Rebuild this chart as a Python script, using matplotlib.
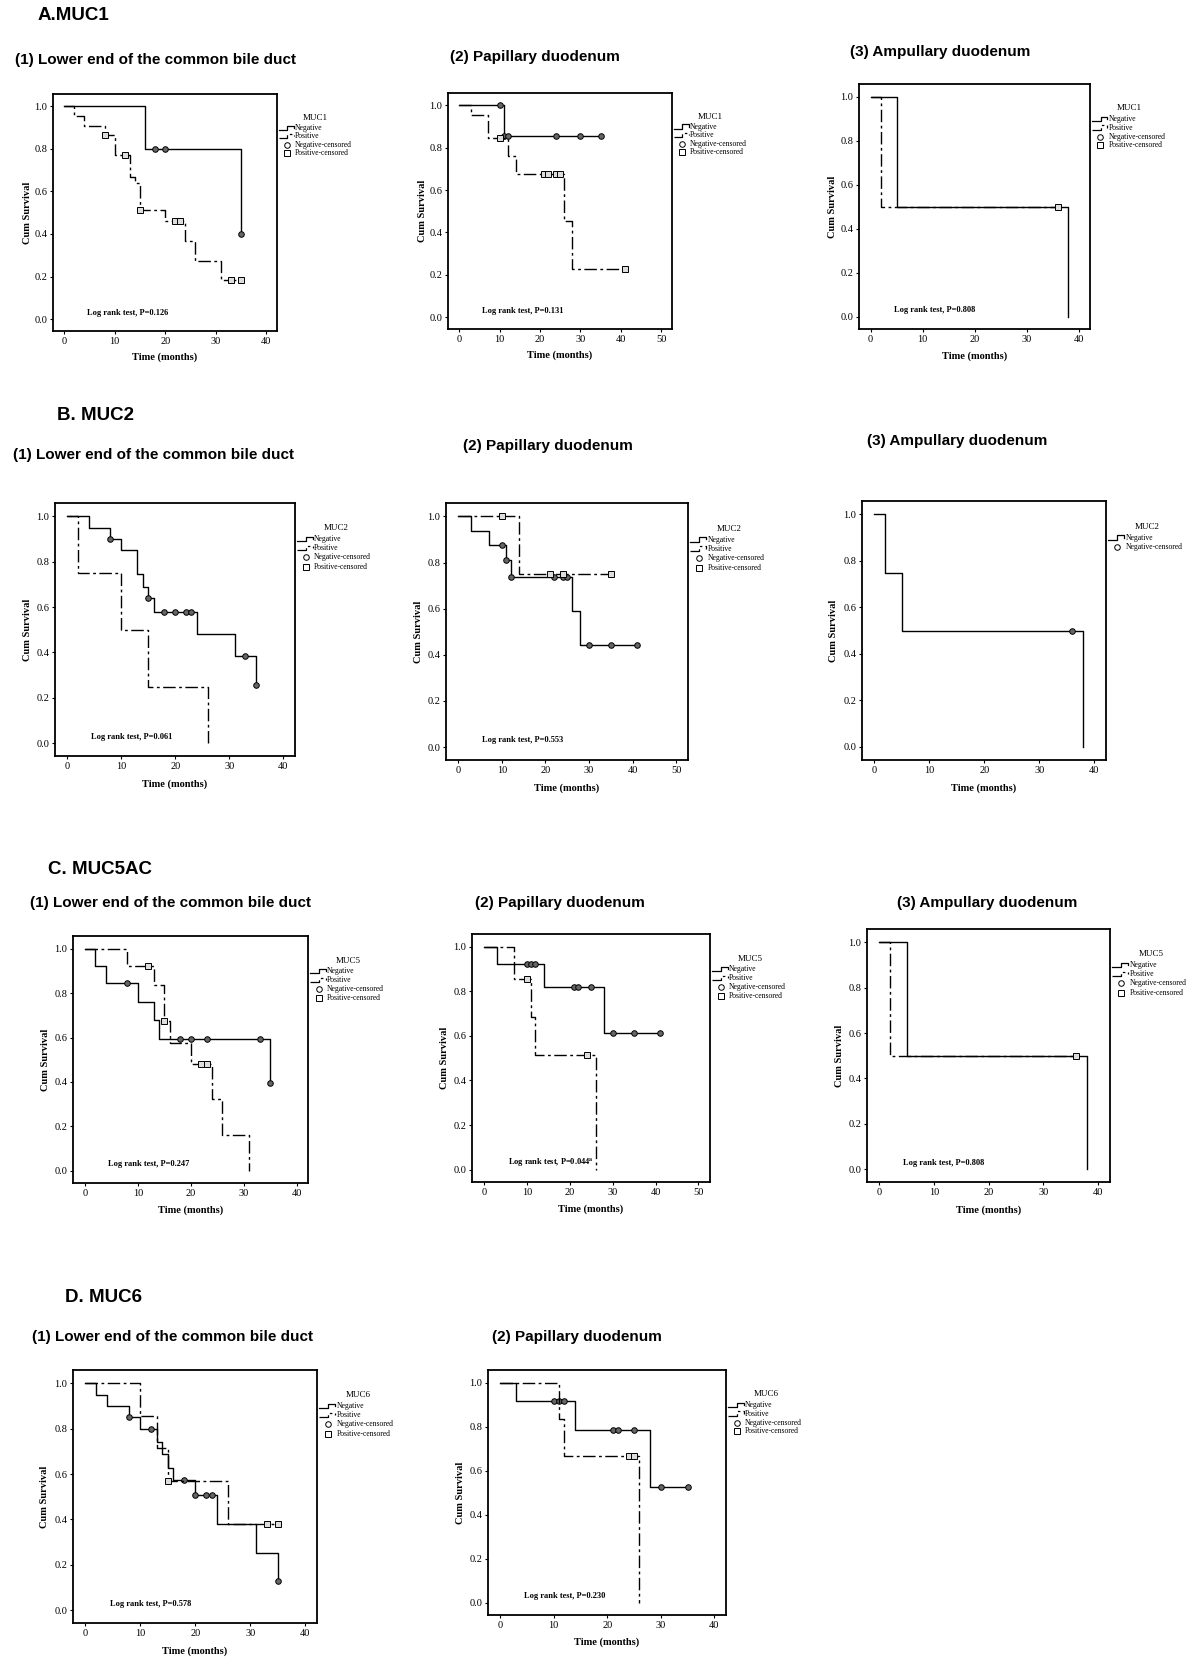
import matplotlib
matplotlib.use('Agg')
import numpy as np
import matplotlib.pyplot as plt
from matplotlib import font_manager

W, H = 1200, 1664

# Kaplan-Meier curves:
# *_t = event times (months), *_s = survival after each event, *_c = censored times

# A. MUC1
a1_neg_t = [16, 35]
a1_neg_s = [0.80, 0.40]
a1_neg_c = [18, 20, 35]
a1_pos_t = [2, 4, 8, 10, 13, 14, 15, 20, 24, 26, 31]
a1_pos_s = [0.955, 0.909, 0.864, 0.769, 0.667, 0.641, 0.513, 0.459, 0.367, 0.275, 0.183]
a1_pos_c = [8, 12, 15, 22, 23, 33, 35]

a2_neg_t = [11]
a2_neg_s = [0.857]
a2_neg_c = [10, 11, 12, 24, 30, 35]
a2_pos_t = [3, 7, 12, 14, 26, 28]
a2_pos_s = [0.952, 0.847, 0.762, 0.678, 0.452, 0.226]
a2_pos_c = [10, 21, 22, 24, 25, 41]

a3_neg_t = [5, 38]
a3_neg_s = [0.5, 0.0]
a3_neg_c = []
a3_pos_t = [2]
a3_pos_s = [0.5]
a3_pos_c = [36]

# B. MUC2
b1_neg_t = [4, 8, 10, 13, 14, 15, 16, 24, 31, 35]
b1_neg_s = [0.95, 0.90, 0.85, 0.744, 0.69, 0.639, 0.58, 0.483, 0.385, 0.258]
b1_neg_c = [8, 15, 18, 20, 22, 23, 33, 35]
b1_pos_t = [2, 10, 15, 26]
b1_pos_s = [0.75, 0.50, 0.25, 0.0]
b1_pos_c = []

b2_neg_t = [3, 7, 11, 12, 26, 28]
b2_neg_s = [0.9375, 0.875, 0.81, 0.736, 0.588, 0.441]
b2_neg_c = [10, 11, 12, 22, 24, 25, 30, 35, 41]
b2_pos_t = [14]
b2_pos_s = [0.75]
b2_pos_c = [10, 21, 24, 35]

b3_neg_t = [2, 5, 38]
b3_neg_s = [0.75, 0.5, 0.0]
b3_neg_c = [36]

# C. MUC5AC
c1_neg_t = [2, 4, 10, 13, 14, 35]
c1_neg_s = [0.923, 0.847, 0.761, 0.678, 0.592, 0.396]
c1_neg_c = [8, 18, 20, 23, 33, 35]
c1_pos_t = [8, 13, 15, 16, 20, 24, 26, 31]
c1_pos_s = [0.923, 0.839, 0.673, 0.577, 0.482, 0.322, 0.16, 0.0]
c1_pos_c = [12, 15, 22, 23]

c2_neg_t = [3, 14, 28]
c2_neg_s = [0.923, 0.821, 0.615]
c2_neg_c = [10, 11, 12, 21, 22, 25, 30, 35, 41]
c2_pos_t = [7, 11, 12, 26]
c2_pos_s = [0.857, 0.686, 0.514, 0.0]
c2_pos_c = [10, 24]

c3_neg_t = [5, 38]
c3_neg_s = [0.5, 0.0]
c3_neg_c = []
c3_pos_t = [2]
c3_pos_s = [0.5]
c3_pos_c = [36]

# D. MUC6
d1_neg_t = [2, 4, 8, 10, 13, 14, 15, 16, 20, 24, 31, 35]
d1_neg_s = [0.95, 0.90, 0.85, 0.80, 0.743, 0.688, 0.628, 0.574, 0.507, 0.379, 0.253, 0.128]
d1_neg_c = [8, 12, 18, 20, 22, 23, 35]
d1_pos_t = [10, 13, 15, 26]
d1_pos_s = [0.857, 0.714, 0.571, 0.381]
d1_pos_c = [15, 33, 35]

d2_neg_t = [3, 14, 28]
d2_neg_s = [0.917, 0.786, 0.524]
d2_neg_c = [10, 11, 12, 21, 22, 25, 30, 35]
d2_pos_t = [11, 12, 26]
d2_pos_s = [0.833, 0.667, 0.0]
d2_pos_c = [24, 25]

sections = [('A.MUC1', 38, 15), ('B. MUC2', 57, 415),
            ('C. MUC5AC', 48, 870), ('D. MUC6', 65, 1297)]

SUB1 = '(1) Lower end of the common bile duct'
SUB2 = '(2) Papillary duodenum'
SUB3 = '(3) Ampullary duodenum'

# box = (left, top, right, bottom) in pixels, sub = (x, y) of the panel heading
panels = [
    dict(box=(53, 94, 277, 331), sub=(SUB1, 15, 60), xmax=40, grp='MUC1',
         neg=(a1_neg_t, a1_neg_s, a1_neg_c), pos=(a1_pos_t, a1_pos_s, a1_pos_c), p='0.126'),
    dict(box=(448, 93, 672, 329), sub=(SUB2, 450, 57), xmax=50, grp='MUC1',
         neg=(a2_neg_t, a2_neg_s, a2_neg_c), pos=(a2_pos_t, a2_pos_s, a2_pos_c), p='0.131'),
    dict(box=(859, 84, 1090, 329), sub=(SUB3, 850, 52), xmax=40, grp='MUC1',
         neg=(a3_neg_t, a3_neg_s, a3_neg_c), pos=(a3_pos_t, a3_pos_s, a3_pos_c), p='0.808'),
    dict(box=(55, 503, 295, 756), sub=(SUB1, 13, 455), xmax=40, grp='MUC2',
         neg=(b1_neg_t, b1_neg_s, b1_neg_c), pos=(b1_pos_t, b1_pos_s, b1_pos_c), p='0.061'),
    dict(box=(446, 503, 688, 760), sub=(SUB2, 463, 446), xmax=50, grp='MUC2',
         neg=(b2_neg_t, b2_neg_s, b2_neg_c), pos=(b2_pos_t, b2_pos_s, b2_pos_c), p='0.553'),
    dict(box=(862, 501, 1106, 760), sub=(SUB3, 867, 441), xmax=40, grp='MUC2',
         neg=(b3_neg_t, b3_neg_s, b3_neg_c), pos=None, p=None),
    dict(box=(73, 936, 308, 1183), sub=(SUB1, 30, 903), xmax=40, grp='MUC5',
         neg=(c1_neg_t, c1_neg_s, c1_neg_c), pos=(c1_pos_t, c1_pos_s, c1_pos_c), p='0.247'),
    dict(box=(472, 934, 710, 1182), sub=(SUB2, 475, 903), xmax=50, grp='MUC5',
         neg=(c2_neg_t, c2_neg_s, c2_neg_c), pos=(c2_pos_t, c2_pos_s, c2_pos_c),
         p=r'0.044$^{\mathbf{a}}$'),
    dict(box=(867, 929, 1110, 1182), sub=(SUB3, 897, 903), xmax=40, grp='MUC5',
         neg=(c3_neg_t, c3_neg_s, c3_neg_c), pos=(c3_pos_t, c3_pos_s, c3_pos_c), p='0.808'),
    dict(box=(73, 1370, 317, 1623), sub=(SUB1, 32, 1337), xmax=40, grp='MUC6',
         neg=(d1_neg_t, d1_neg_s, d1_neg_c), pos=(d1_pos_t, d1_pos_s, d1_pos_c), p='0.578'),
    dict(box=(488, 1370, 726, 1615), sub=(SUB2, 492, 1337), xmax=40, grp='MUC6',
         neg=(d2_neg_t, d2_neg_s, d2_neg_c), pos=(d2_pos_t, d2_pos_s, d2_pos_c), p='0.230'),
]

names = {f.name for f in font_manager.fontManager.ttflist}
HEAD = 'Liberation Sans Narrow' if 'Liberation Sans Narrow' in names else 'Liberation Sans'
SUB_SIZE = 13 if HEAD == 'Liberation Sans Narrow' else 11

plt.rcParams['font.family'] = ['Liberation Serif', 'DejaVu Serif']
plt.rcParams['mathtext.fontset'] = 'stix'

DASH = (0, (9, 2.5, 2, 2.5))
CIRC = dict(marker='o', ms=4, mfc='#666666', mec='black', mew=0.7)
SQR = dict(marker='s', ms=4, mfc='#dddddd', mec='black', mew=0.7)


def km_curve(ax, t, s, c, ls, mk):
    times = [0] + list(t)
    surv = [1.0] + list(s)
    if c and max(c) > times[-1]:
        times.append(max(c))
        surv.append(surv[-1])
    ax.step(times, surv, where='post', color='black', lw=1.0, ls=ls)
    if c:
        idx = np.searchsorted(t, c, side='right')
        cy = np.array([1.0] + list(s))[idx]
        ax.plot(c, cy, ls='none', **mk)


def draw_legend(ax, grp, has_pos):
    tr = ax.transAxes
    ax.text(1.17, 0.90, grp, transform=tr, ha='center', va='center', fontsize=6.5)
    rows = [('Negative', 'line', '-')]
    if has_pos:
        rows.append(('Positive', 'line', DASH))
    rows.append(('Negative-censored', 'mark', CIRC))
    if has_pos:
        rows.append(('Positive-censored', 'mark', SQR))
    sx = np.array([0, 0.55, 0.55, 1, 1]) * 0.065 + 1.01
    sy = np.array([0, 0, 1, 1, 0.5]) * 0.018
    for i, (lab, kind, st) in enumerate(rows):
        y = 0.857 - i * 0.036
        if kind == 'line':
            ax.plot(sx, y - 0.008 + sy, transform=tr, clip_on=False,
                    color='black', lw=0.9, ls=st)
        else:
            m = dict(st)
            m['mfc'] = 'white'
            ax.plot([1.045], [y], transform=tr, clip_on=False, ls='none', **m)
        ax.text(1.08, y, lab, transform=tr, ha='left', va='center', fontsize=5.5)


fig = plt.figure(figsize=(W / 100, H / 100), dpi=100)

for lab, x, y in sections:
    fig.text(x / W, 1 - y / H, lab, family=HEAD, weight='bold', fontsize=13.5,
             ha='left', va='center')

for pn in panels:
    l, t, r, b = pn['box']
    ax = fig.add_axes([l / W, 1 - b / H, (r - l) / W, (b - t) / H])
    txt, sx_, sy_ = pn['sub']
    fig.text(sx_ / W, 1 - sy_ / H, txt, family=HEAD, weight='bold', fontsize=SUB_SIZE,
             ha='left', va='center')

    xmax = pn['xmax']
    km_curve(ax, *pn['neg'], '-', CIRC)
    if pn['pos'] is not None:
        km_curve(ax, *pn['pos'], DASH, SQR)

    ax.set_xlim(-0.056 * xmax, 1.054 * xmax)
    ax.set_ylim(-0.056, 1.058)
    ax.set_xticks(range(0, xmax + 1, 10))
    ax.set_yticks([0, 0.2, 0.4, 0.6, 0.8, 1.0])
    ax.set_yticklabels(['0.0', '0.2', '0.4', '0.6', '0.8', '1.0'])
    ax.tick_params(direction='out', length=2.5, width=0.8, labelsize=7.5, pad=1.5,
                   top=False, right=False)
    for sp in ax.spines.values():
        sp.set_linewidth(1.3)

    ax.set_xlabel('Time (months)', fontsize=7.5, weight='bold')
    ax.set_ylabel('Cum Survival', fontsize=7.5, weight='bold')
    ax.xaxis.set_label_coords(0.5, -0.11)
    ax.xaxis.label.set_va('center')
    ax.yaxis.set_label_coords(-0.115, 0.5)
    ax.yaxis.label.set_va('center')

    if pn['p'] is not None:
        ax.text(0.15, 0.076, 'Log rank test, P=' + pn['p'], transform=ax.transAxes,
                fontsize=6, weight='bold', ha='left', va='center')

    draw_legend(ax, pn['grp'], pn['pos'] is not None)

fig.savefig('out.png', dpi=100)
